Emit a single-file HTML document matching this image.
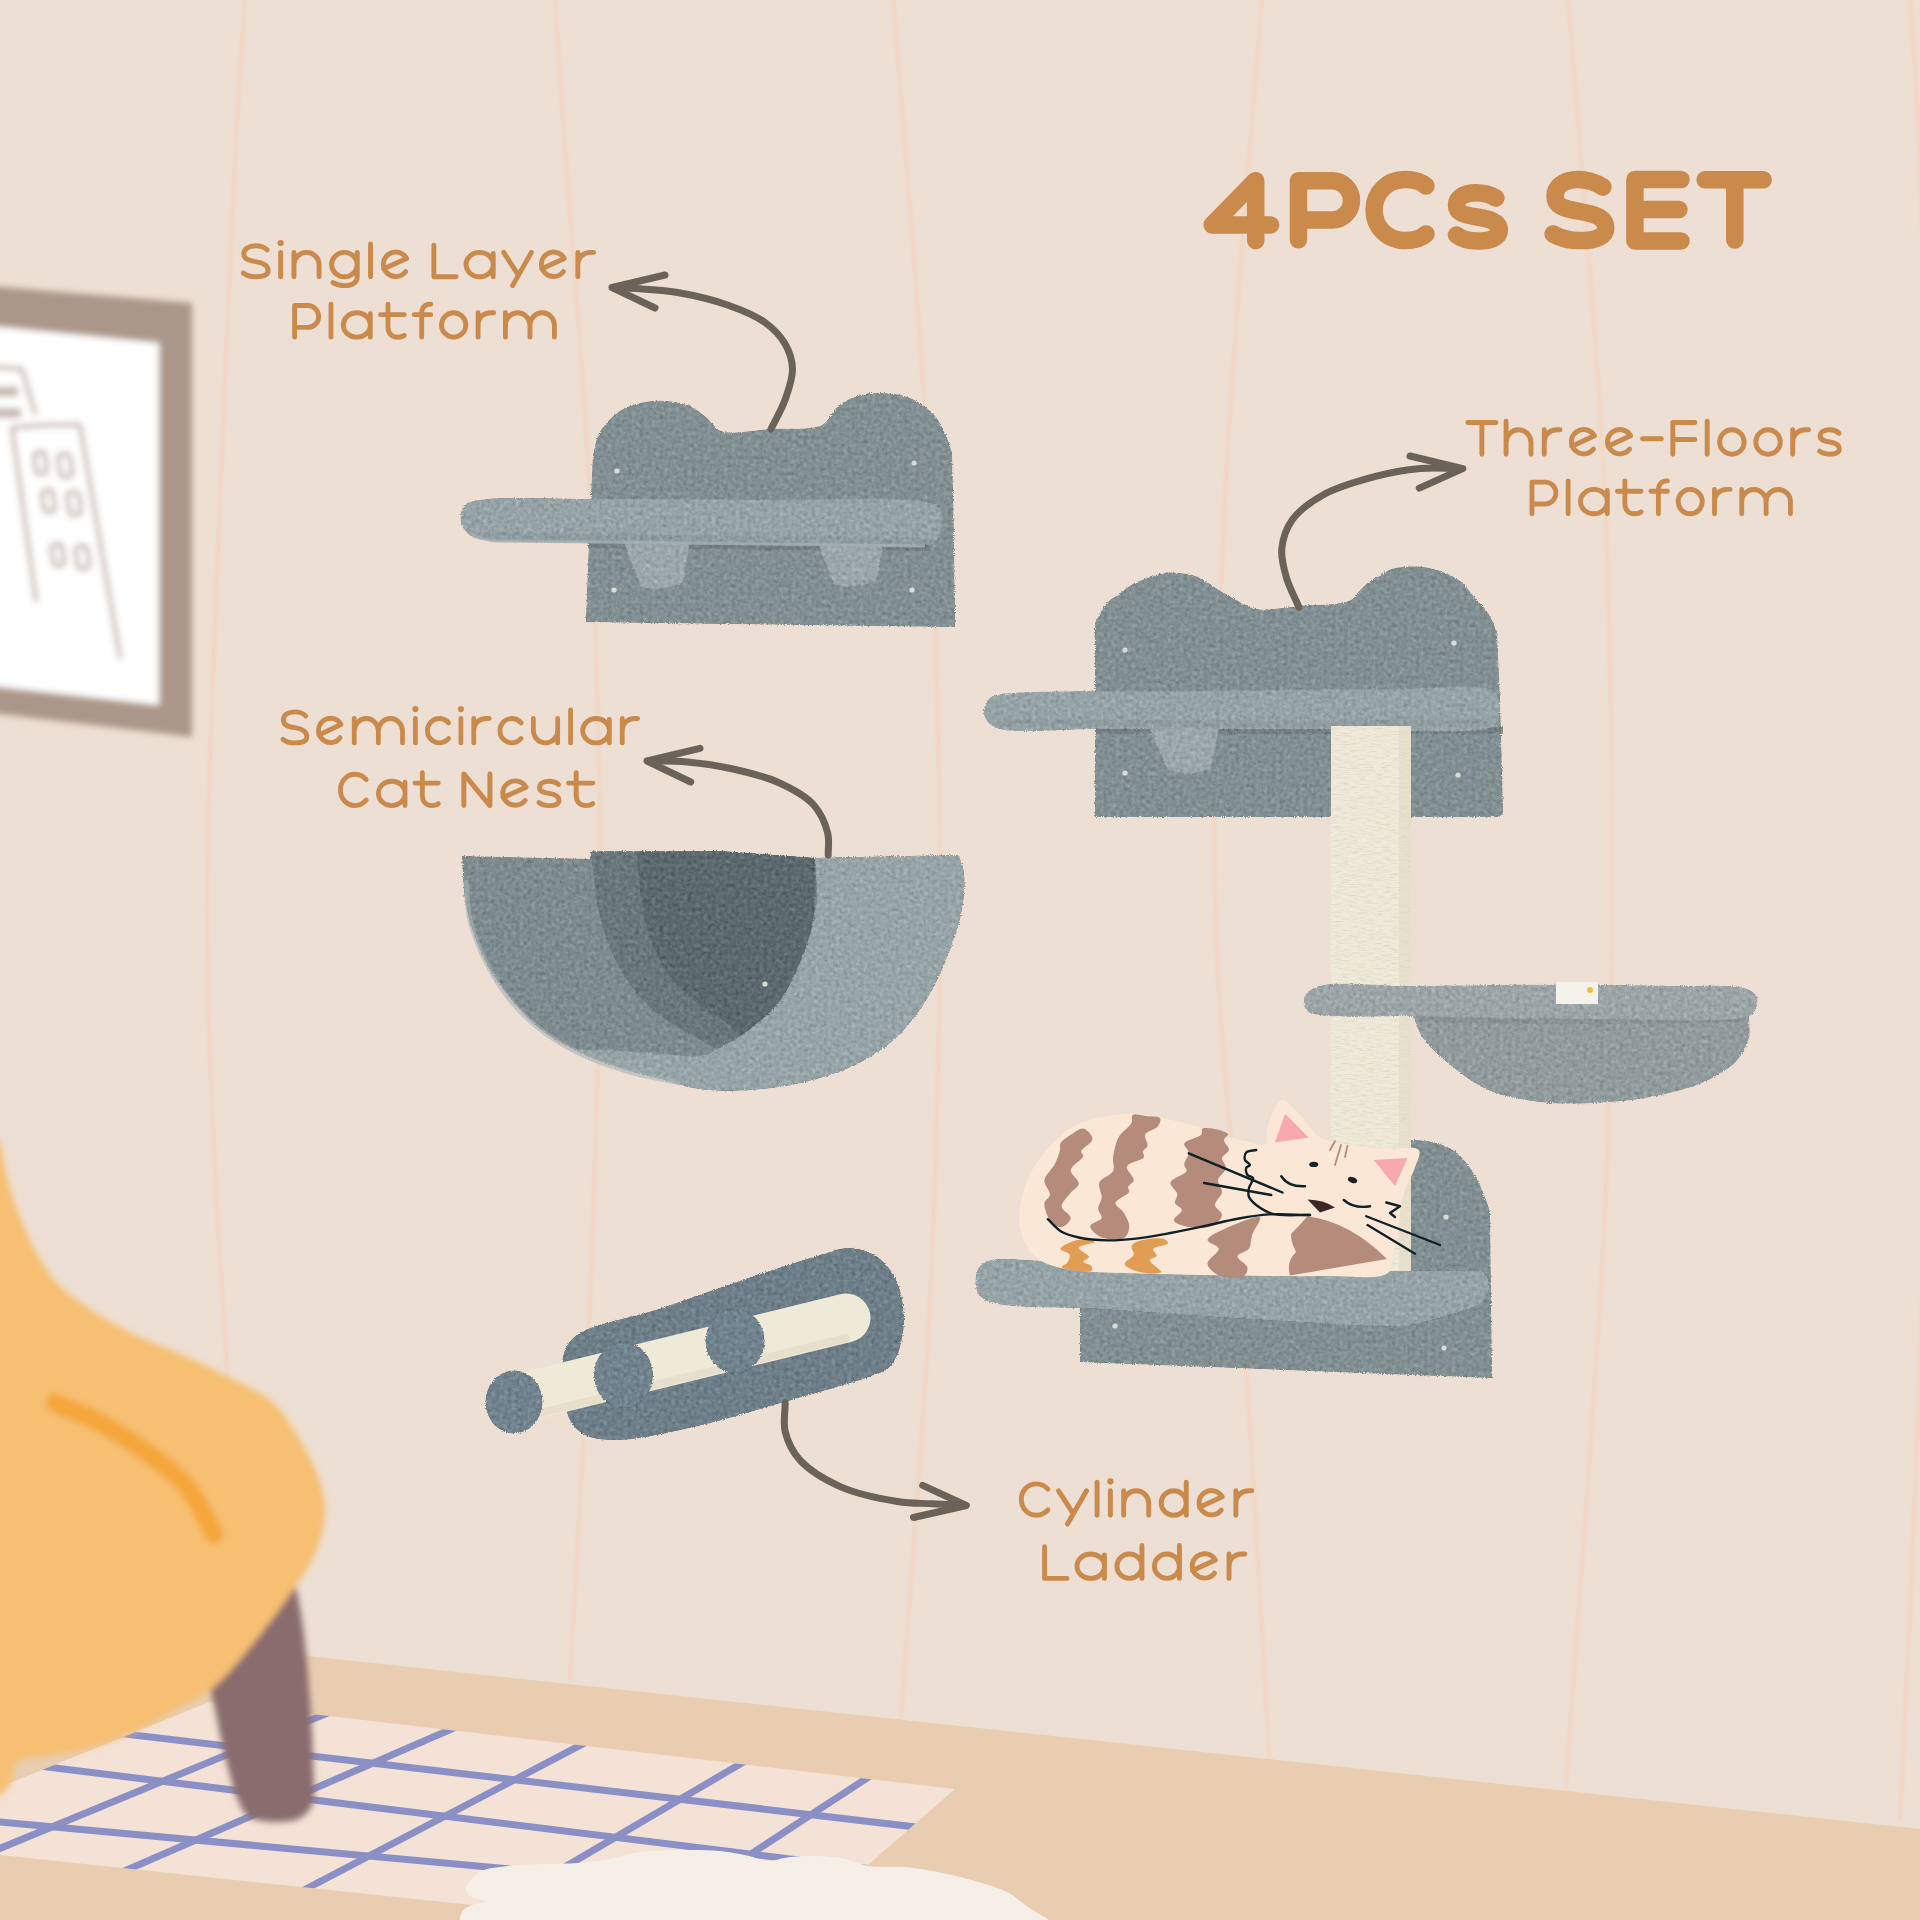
<!DOCTYPE html>
<html><head><meta charset="utf-8"><title>4PCs SET</title>
<style>
html,body{margin:0;padding:0;width:1920px;height:1920px;overflow:hidden;background:#eddfd3}
svg{display:block}
text{font-family:"Liberation Sans",sans-serif}
</style></head><body>
<svg width="1920" height="1920" viewBox="0 0 1920 1920">
<defs>
<filter id="b3" x="-20%" y="-20%" width="140%" height="140%"><feGaussianBlur stdDeviation="3"/></filter>
<filter id="b1" x="-10%" y="-10%" width="120%" height="120%"><feGaussianBlur stdDeviation="1"/></filter>
<filter id="fur" x="-2%" y="-2%" width="104%" height="104%" color-interpolation-filters="sRGB">
 <feTurbulence type="fractalNoise" baseFrequency="0.9" numOctaves="1" seed="5" result="dn"/>
 <feDisplacementMap in="SourceGraphic" in2="dn" scale="3.5" xChannelSelector="R" yChannelSelector="G" result="disp"/>
 <feTurbulence type="fractalNoise" baseFrequency="0.25" numOctaves="3" seed="3" result="n"/>
 <feColorMatrix in="n" type="matrix" values="0.33 0.33 0.33 0 0  0.33 0.33 0.33 0 0  0.33 0.33 0.33 0 0  0 0 0 0 1" result="g"/>
 <feComposite in="disp" in2="g" operator="arithmetic" k1="0" k2="1" k3="0.35" k4="-0.175" result="c"/>
 <feComposite in="c" in2="disp" operator="in" result="d"/>
 <feGaussianBlur in="d" stdDeviation="0.6"/>
</filter>
<clipPath id="rugclip"><polygon points="209,1702 955,1789 805,1920 613,1920 0,1855 0,1787"/></clipPath>
</defs>
<rect width="1920" height="1920" fill="#eddfd3"/>

<g fill="none" stroke="#f2d7c4" stroke-width="4.2" filter="url(#b1)">
<path d="M245.0,0.0 C242.3,40.0,239.9,68.8,237.0,120.0 C231.9,211.1,225.0,371.7,220.0,500.0 C214.9,631.6,207.3,782.3,207.0,900.0 C206.8,993.1,210.3,1066.7,214.0,1150.0 C217.7,1233.4,224.0,1316.7,229.0,1400.0"/>
<path d="M555.0,0.0 C557.7,40.0,559.5,68.8,563.0,120.0 C569.3,211.1,583.8,371.6,590.0,500.0 C596.3,631.6,600.0,766.7,600.0,900.0 C600.0,1033.3,595.1,1168.4,590.0,1300.0 C585.0,1428.3,576.7,1553.3,570.0,1680.0"/>
<path d="M893.0,0.0 C896.3,40.0,899.0,68.8,903.0,120.0 C910.0,211.1,923.8,371.6,930.0,500.0 C936.3,631.6,940.0,766.7,940.0,900.0 C940.0,1033.3,936.4,1164.3,930.0,1300.0 C923.3,1440.8,910.0,1586.7,900.0,1730.0"/>
<path d="M1262.0,0.0 C1258.7,40.0,1256.0,68.8,1252.0,120.0 C1245.0,211.1,1231.2,371.6,1225.0,500.0 C1218.7,631.6,1212.1,770.2,1215.0,900.0 C1217.7,1023.2,1231.6,1129.6,1240.0,1260.0 C1250.0,1415.2,1260.0,1600.0,1270.0,1770.0"/>
<path d="M1568.0,0.0 C1571.3,40.0,1574.0,68.8,1578.0,120.0 C1585.0,211.1,1599.3,371.6,1605.0,500.0 C1610.8,631.5,1612.3,775.2,1612.0,900.0 C1611.7,1009.9,1610.4,1090.3,1605.0,1210.0 C1597.5,1375.4,1578.3,1603.3,1565.0,1800.0"/>
<path d="M1910.0,0.0 C1912.7,40.0,1915.6,66.6,1918.0,120.0 C1922.9,226.6,1928.6,431.1,1930.0,600.0 C1931.6,788.8,1929.1,1019.0,1925.0,1200.0 C1921.6,1349.7,1914.8,1496.0,1910.0,1610.0 C1906.6,1691.6,1903.3,1750.0,1900.0,1820.0"/>
</g>
<g filter="url(#b3)">
<polygon points="-10,286 192,303 192,737 -10,713" fill="#ab978a"/>
<polygon points="-10,326 159,343 159,705 -10,686" fill="#ffffff"/>
<g fill="none" stroke="#c6b8b0" stroke-width="4.4" stroke-linecap="round" stroke-linejoin="round">
<path d="M12,428 Q45,424 80,425 L120,657"/>
<path d="M12,428 L36,600"/>
<path d="M-5,367 L22,369 L35,413"/>
<path d="M-5,391.5 H14" stroke-width="10"/>
<path d="M-5,413 H17" stroke-width="10"/>
<rect x="35" y="452" width="11" height="22" rx="4" transform="rotate(-8 40 463)"/>
<rect x="59" y="454" width="12" height="23" rx="4" transform="rotate(-8 64 464)"/>
<rect x="43" y="490" width="11" height="22" rx="4" transform="rotate(-8 48 501)"/>
<rect x="68" y="492" width="12" height="23" rx="4" transform="rotate(-8 73 502)"/>
<rect x="52" y="544" width="11" height="22" rx="4" transform="rotate(-8 56 553)"/>
<rect x="76" y="546" width="12" height="23" rx="4" transform="rotate(-8 81 554)"/>
</g>
</g>

<polygon points="0,1623 1920,1829 1920,1920 0,1920" fill="#e8cdb0"/>
<polygon points="209,1702 955,1789 805,1920 613,1920 0,1855 0,1787" fill="#f3e2d5"/>
<g clip-path="url(#rugclip)" stroke="#8a8fc5" stroke-width="7" fill="none">
<line x1="-645.0" y1="1643.5" x2="1695.0" y2="1918.6"/>
<line x1="-688.8" y1="1676.0" x2="1497.5" y2="1946.4"/>
<line x1="-509.0" y1="1775.0" x2="1018.0" y2="1916.0"/>
<line x1="-323.0" y1="1981.8" x2="646.0" y2="1581.6"/>
<line x1="-193.6" y1="2009.0" x2="774.2" y2="1589.0"/>
<line x1="28.3" y1="2034.4" x2="855.4" y2="1601.2"/>
<line x1="239.4" y1="2058.2" x2="991.2" y2="1616.5"/>
<line x1="628.2" y1="1934.2" x2="984.3" y2="1701.4"/>
</g>

<path d="M462.0,1925.0 C458.2,1921.2,460.3,1915.4,462.0,1912.0 C463.7,1908.7,468.2,1906.7,472.0,1905.0 C476.1,1903.2,485.9,1903.4,486.0,1902.0 C486.1,1900.5,473.3,1899.0,470.0,1896.0 C467.6,1893.8,465.6,1891.0,466.0,1888.0 C466.6,1883.4,473.8,1875.7,480.0,1872.0 C487.2,1867.7,496.5,1867.5,508.0,1866.0 C525.8,1863.7,559.1,1864.3,577.0,1863.0 C588.4,1862.1,595.2,1861.6,605.0,1860.0 C616.1,1858.1,627.8,1853.7,640.0,1852.0 C653.1,1850.2,667.5,1850.2,681.0,1850.0 C694.2,1849.8,708.0,1849.8,720.0,1851.0 C730.4,1852.0,740.5,1854.1,749.0,1856.0 C755.8,1857.5,760.6,1860.7,767.0,1861.0 C774.2,1861.4,781.9,1857.8,790.0,1857.0 C798.8,1856.1,808.8,1855.7,818.0,1856.0 C827.1,1856.3,836.3,1857.3,845.0,1859.0 C853.3,1860.7,860.1,1864.6,869.0,1866.0 C879.7,1867.7,893.3,1866.0,905.0,1867.0 C916.3,1868.0,926.7,1869.8,938.0,1872.0 C950.0,1874.4,963.2,1877.5,975.0,1881.0 C986.1,1884.3,997.4,1887.1,1007.0,1892.0 C1015.9,1896.6,1023.2,1903.8,1031.0,1909.0 C1038.2,1913.7,1046.8,1917.9,1052.0,1922.0 C1055.5,1924.8,1061.0,1927.7,1060.0,1930.0 C1052.9,1946.8,487.6,1950.8,462.0,1925.0 Z" fill="#f6efe8"/>
<g filter="url(#b3)">
<path d="M200.0,1640.0 C204.3,1660.0,208.7,1680.0,213.0,1700.0 C217.3,1720.0,221.4,1742.1,226.0,1760.0 C229.8,1774.8,233.4,1789.9,238.0,1800.0 C241.1,1806.8,242.9,1812.3,248.0,1816.0 C254.1,1820.4,265.3,1821.7,274.0,1822.0 C282.6,1822.3,293.4,1821.5,300.0,1818.0 C305.4,1815.1,309.5,1811.3,312.0,1805.0 C316.1,1795.0,313.2,1776.1,313.0,1760.0 C312.7,1741.4,311.6,1721.4,310.0,1700.0 C308.1,1675.2,305.7,1644.7,302.0,1620.0 C298.8,1598.5,294.0,1580.0,290.0,1560.0 Z" fill="#8a6c6e"/>
<path d="M0.0,1142.0 C3.0,1156.3,5.2,1171.3,9.0,1185.0 C12.6,1197.9,17.2,1210.2,22.0,1222.0 C26.6,1233.2,31.3,1243.9,37.0,1254.0 C42.6,1263.9,48.3,1273.6,56.0,1282.0 C63.9,1290.7,73.1,1297.4,84.0,1305.0 C97.4,1314.4,114.3,1324.5,131.0,1333.0 C148.6,1341.9,169.2,1348.9,187.0,1357.0 C203.5,1364.5,219.3,1372.2,234.0,1380.0 C247.5,1387.2,261.1,1392.3,272.0,1402.0 C283.3,1412.1,291.9,1426.4,300.0,1440.0 C308.3,1454.0,317.0,1471.2,321.0,1485.0 C324.1,1495.7,325.6,1504.5,325.0,1515.0 C324.4,1526.7,321.0,1540.0,316.0,1552.0 C310.6,1565.0,301.9,1576.7,293.0,1590.0 C282.4,1605.8,269.1,1623.9,256.0,1640.0 C242.8,1656.2,228.7,1674.9,214.0,1687.0 C201.5,1697.2,188.0,1702.7,175.0,1710.0 C162.3,1717.1,149.7,1724.1,137.0,1730.0 C124.7,1735.7,112.6,1741.0,100.0,1745.0 C87.6,1749.0,74.6,1751.7,62.0,1754.0 C49.6,1756.3,32.4,1757.4,25.0,1759.0 C21.7,1759.7,19.8,1759.7,18.0,1761.0 C16.2,1762.3,15.1,1764.4,14.0,1767.0 C12.2,1771.1,12.5,1779.1,10.0,1784.0 C7.7,1788.7,3.3,1792.0,0.0,1796.0 L-20,1800 L-20,1130 Z" fill="#f6bf72"/>
<path d="M55.0,1403.0 C70.0,1409.7,84.9,1414.9,100.0,1423.0 C116.6,1431.9,134.8,1443.7,150.0,1455.0 C164.0,1465.4,177.4,1475.0,188.0,1488.0 C198.8,1501.3,205.3,1518.7,214.0,1534.0" fill="none" stroke="#f5a63b" stroke-width="19" stroke-linecap="round"/>
</g><g filter="url(#fur)">
<path d="M586,622 L589,540 L593,455 C595.3,447.3,595.9,439.1,600.0,432.0 C604.5,424.3,612.6,415.9,620.0,411.0 C626.5,406.7,633.6,404.7,641.0,403.0 C648.6,401.3,657.0,400.5,665.0,401.0 C673.3,401.5,682.7,402.9,690.0,406.0 C696.6,408.8,701.7,413.7,707.0,418.0 C712.0,422.1,714.2,428.5,721.0,431.0 C731.9,435.0,753.4,430.0,770.0,429.0 C787.1,428.0,811.0,430.5,822.0,425.0 C828.8,421.6,830.4,414.3,835.0,410.0 C839.1,406.1,843.1,402.6,848.0,400.0 C853.1,397.2,859.5,395.1,865.0,394.0 C869.8,393.0,873.9,392.9,879.0,393.0 C885.3,393.1,893.4,393.4,900.0,395.0 C906.3,396.5,912.3,398.7,918.0,402.0 C924.0,405.5,930.4,410.4,935.0,416.0 C939.7,421.7,943.1,429.5,946.0,436.0 C948.6,441.8,950.0,447.3,952.0,453.0 L954,540 L955,627 Z" fill="#828f93"/>
<path d="M588,541 L930,545 L930,551 L588,548 Z" fill="#6c787c" opacity="0.7"/>
<path d="M623,540 L690,540 L683,583 Q662,592 641,587 Z" fill="#9ba7aa"/>
<path d="M817,540 L884,540 L876,581 Q855,589 834,584 Z" fill="#9ba7aa"/>
<path d="M480.0,500.0 C501.2,496.1,557.1,499.0,600.0,499.0 C649.5,498.9,705.9,499.4,760.0,500.0 C815.8,500.7,908.2,495.9,930.0,503.0 C935.8,504.9,937.9,506.5,940.0,510.0 C942.4,514.1,942.9,521.6,942.0,527.0 C941.1,532.3,938.8,539.0,935.0,542.0 C931.4,544.9,927.7,544.3,920.0,545.0 C895.1,547.4,813.3,544.5,760.0,544.0 C706.7,543.5,648.4,542.7,600.0,542.0 C559.9,541.4,511.8,542.9,490.0,540.0 C480.6,538.7,474.9,538.4,470.0,535.0 C465.7,532.0,462.0,526.8,461.0,522.0 C460.0,517.1,460.9,509.7,464.0,506.0 C467.2,502.2,472.0,501.5,480.0,500.0 Z" fill="#97a4a7"/>
<path d="M480,536 L760,539.5 L928,541" stroke="#8a979b" stroke-width="7" stroke-linecap="round" fill="none" opacity="0.55"/>
</g>
<path d="M470,533 Q482,541 500,541 L760,544 L925,546" stroke="#a3afb5" stroke-width="3" fill="none" opacity="0.8"/>
<g fill="#dcdcd6"><circle cx="617" cy="471" r="2.6"/><circle cx="914" cy="463" r="2.6"/><circle cx="614" cy="590" r="2.6"/><circle cx="912" cy="590" r="2.6"/></g>
<g filter="url(#fur)">
<path d="M462.0,856.0 C462.2,860.0,462.4,863.0,462.7,868.0 C463.3,876.6,463.4,891.4,465.5,903.0 C467.6,914.8,471.0,926.5,475.3,938.0 C479.8,950.0,485.5,962.7,492.0,973.6 C498.2,983.9,505.1,992.6,513.0,1001.7 C521.4,1011.4,530.5,1021.6,541.0,1029.8 C551.7,1038.1,564.0,1044.8,576.6,1051.0 C589.8,1057.5,604.5,1063.1,618.8,1067.8 C632.7,1072.4,647.2,1075.4,661.0,1079.0 C674.3,1082.5,686.7,1087.1,700.0,1089.0 C713.6,1090.9,727.0,1091.0,742.0,1090.3 C759.4,1089.5,779.8,1087.4,798.4,1083.3 C817.4,1079.1,837.8,1073.2,854.7,1065.0 C870.4,1057.4,885.0,1047.9,896.9,1036.9 C908.2,1026.6,916.9,1014.4,925.0,1001.7 C933.3,988.7,940.1,973.8,946.0,959.5 C951.8,945.6,957.1,930.9,960.2,917.3 C962.9,905.2,964.4,891.5,964.4,882.0 C964.4,875.6,963.6,870.8,962.4,866.0 C961.3,861.9,959.5,858.7,958.0,855.0 L815,858 L720,851 L591,851 L590,859 Z" fill="#7e8b8f"/>
<path d="M591.0,852.0 C593.7,871.3,595.1,892.4,599.0,910.0 C602.4,925.3,606.2,938.8,612.0,952.0 C617.6,964.8,624.7,977.2,633.0,988.0 C641.1,998.5,650.6,1007.9,661.0,1016.0 C671.6,1024.2,685.3,1031.4,696.0,1037.0 C704.6,1041.5,712.3,1047.8,720.0,1048.0 C726.9,1048.2,733.3,1043.9,740.0,1040.0 C748.2,1035.2,757.2,1028.2,765.0,1020.0 C774.0,1010.4,782.9,997.4,790.0,985.0 C797.2,972.4,803.8,959.0,808.0,945.0 C812.2,930.7,813.9,914.8,815.0,900.0 C816.1,885.8,815.0,872.0,815.0,858.0 L720,851 Z" fill="#5c6a6f"/>
<path d="M591.0,852.0 C593.7,871.3,595.1,892.4,599.0,910.0 C602.4,925.3,606.2,938.8,612.0,952.0 C617.6,964.8,624.7,977.2,633.0,988.0 C641.1,998.5,650.6,1007.9,661.0,1016.0 C671.6,1024.2,685.3,1031.4,696.0,1037.0 C704.6,1041.5,711.8,1047.5,720.0,1048.0 C728.2,1048.5,736.7,1042.7,745.0,1040.0 L745,1040 C736.7,1032.7,728.7,1024.6,720.0,1018.0 C711.6,1011.6,702.1,1007.7,694.0,1001.0 C685.4,993.9,676.9,985.4,670.0,976.0 C662.8,966.2,656.6,954.8,652.0,943.0 C647.2,930.6,644.5,917.2,642.0,903.0 C639.3,887.1,638.7,869.0,637.0,852.0 Z" fill="#6a777c"/>

<path d="M815,858 C815.7,870.7,817.7,883.6,817.0,896.0 C816.3,907.9,814.1,919.4,811.0,931.0 C807.8,943.1,803.3,955.3,798.0,967.0 C792.6,979.0,787.1,991.6,779.0,1002.0 C770.8,1012.6,759.9,1021.8,749.0,1030.0 C738.2,1038.2,723.2,1046.6,714.0,1051.0 C708.4,1053.6,706.2,1055.1,700.0,1056.0 C688.6,1057.6,666.7,1054.0,650.0,1053.0 C633.3,1052.0,614.6,1050.4,600.0,1050.0 C588.7,1049.7,580.0,1050.0,570.0,1050.0 L576.6,1051 C590.6,1056.6,604.5,1063.1,618.8,1067.8 C632.7,1072.4,647.2,1075.4,661.0,1079.0 C674.3,1082.5,686.7,1087.1,700.0,1089.0 C713.6,1090.9,727.0,1091.0,742.0,1090.3 C759.4,1089.5,779.8,1087.4,798.4,1083.3 C817.4,1079.1,837.8,1073.2,854.7,1065.0 C870.4,1057.4,885.0,1047.9,896.9,1036.9 C908.2,1026.6,916.9,1014.4,925.0,1001.7 C933.3,988.7,940.1,973.8,946.0,959.5 C951.8,945.6,957.1,930.9,960.2,917.3 C962.9,905.2,964.4,891.5,964.4,882.0 C964.4,875.6,963.6,870.8,962.4,866.0 C961.3,861.9,959.5,858.7,958.0,855.0 Z" fill="#97a4a8"/>
</g>
<circle cx="765" cy="984" r="2.6" fill="#dcdcd6"/>
<path d="M466.0,880.0 C467.3,893.3,466.9,906.9,470.0,920.0 C473.2,933.5,478.6,947.0,485.0,960.0 C491.8,973.7,500.1,987.9,510.0,1000.0 C520.0,1012.2,532.3,1023.6,545.0,1033.0 C557.4,1042.2,571.0,1049.5,585.0,1056.0 C599.3,1062.6,614.5,1067.5,630.0,1072.0 C646.1,1076.6,663.3,1079.3,680.0,1083.0" fill="none" stroke="#a9b3b8" stroke-width="5" opacity="0.6"/>
<g filter="url(#fur)">
<path d="M1095,817 L1095,700 L1095,623 C1099.0,616.3,1102.5,608.0,1107.0,603.0 C1110.6,599.0,1114.8,597.1,1119.0,594.0 C1123.5,590.7,1128.1,586.7,1133.0,584.0 C1137.8,581.4,1142.8,579.8,1148.0,578.0 C1153.4,576.1,1159.6,573.8,1165.0,573.0 C1169.8,572.3,1174.2,572.6,1179.0,573.0 C1184.2,573.5,1190.1,574.3,1195.0,576.0 C1199.7,577.7,1203.6,580.4,1208.0,583.0 C1212.6,585.7,1217.3,589.1,1222.0,592.0 C1226.6,594.8,1230.8,597.4,1236.0,600.0 C1242.0,603.1,1247.8,607.5,1256.0,609.0 C1267.6,611.1,1284.8,607.4,1300.0,606.0 C1316.4,604.5,1340.4,605.4,1351.0,600.0 C1357.2,596.8,1358.6,590.9,1363.0,587.0 C1367.3,583.2,1372.2,580.0,1377.0,577.0 C1381.8,574.0,1387.0,570.7,1392.0,569.0 C1396.4,567.5,1400.4,567.4,1405.0,567.0 C1410.3,566.6,1416.3,566.4,1422.0,567.0 C1427.9,567.7,1434.0,568.9,1440.0,571.0 C1446.6,573.4,1454.3,576.6,1460.0,581.0 C1465.6,585.3,1469.3,591.7,1474.0,597.0 C1478.7,602.3,1484.2,607.1,1488.0,613.0 C1491.8,618.8,1494.0,625.7,1497.0,632.0 L1500,700 L1503,810 Q1503,817 1496,817 Z" fill="#828f93"/>
<path d="M1095,727 L1503,727 L1503,734 L1095,734 Z" fill="#6c787c" opacity="0.7"/>
<path d="M1148,726 L1219,726 L1211,768 Q1190,777 1168,770 Z" fill="#9ba7aa"/>
<path d="M1004.0,694.0 C1031.4,689.9,1134.3,691.8,1200.0,691.0 C1266.3,690.2,1346.8,689.3,1400.0,689.0 C1435.3,688.8,1474.1,684.2,1488.0,689.0 C1493.0,690.7,1495.0,692.8,1497.0,696.0 C1499.2,699.6,1500.2,705.4,1500.0,710.0 C1499.8,714.7,1498.7,720.8,1496.0,724.0 C1493.5,726.9,1491.1,727.7,1485.0,729.0 C1461.0,734.2,1362.9,729.0,1300.0,729.0 C1234.6,729.0,1155.2,729.0,1100.0,729.0 C1060.9,729.0,1016.9,733.6,1000.0,729.0 C993.7,727.3,990.7,725.2,988.0,722.0 C985.5,719.1,983.8,714.8,984.0,711.0 C984.2,706.8,986.7,700.8,990.0,698.0 C993.3,695.1,996.5,695.1,1004.0,694.0 Z" fill="#97a4a7"/>
<path d="M1000,723 L1300,724 L1488,723" stroke="#8a979b" stroke-width="7" stroke-linecap="round" fill="none" opacity="0.55"/>
</g>
<g fill="#dcdcd6"><circle cx="1125" cy="650" r="2.6"/><circle cx="1454" cy="643" r="2.6"/><circle cx="1125" cy="773" r="2.6"/><circle cx="1458" cy="775" r="2.6"/></g>
<g filter="url(#fur)">
<path d="M1080,1362 L1080,1160 L1300,1150 C1336.0,1146.7,1382.6,1139.6,1408.0,1140.0 C1421.8,1140.2,1431.1,1141.1,1440.0,1144.0 C1447.1,1146.3,1452.6,1149.4,1458.0,1154.0 C1464.0,1159.1,1469.4,1166.6,1474.0,1174.0 C1478.8,1181.8,1483.2,1192.9,1486.0,1200.0 C1487.9,1204.7,1488.7,1208.0,1490.0,1212.0 L1491,1300 L1492,1378 Z" fill="#828f93"/>
</g>
<defs><filter id="sis" x="0" y="0" width="100%" height="100%" color-interpolation-filters="sRGB"><feTurbulence type="fractalNoise" baseFrequency="0.12 0.7" numOctaves="2" seed="7" result="n"/><feColorMatrix in="n" type="matrix" values="0 0 0 0 0.80  0 0 0 0 0.76  0 0 0 0 0.66  -2.2 0 0 0 1.25" result="m"/><feComposite in="m" in2="SourceGraphic" operator="in"/></filter></defs>
<rect x="1331" y="726" width="80" height="554" fill="#f0eadb"/>
<rect x="1331" y="726" width="80" height="554" fill="#fff" filter="url(#sis)" opacity="0.45"/>
<rect x="1399" y="726" width="12" height="554" fill="#e0d6bf" opacity="0.45"/>
<g filter="url(#fur)">
<path d="M1412.8,1015.0 C1416.2,1022.7,1417.9,1030.6,1423.0,1038.0 C1429.2,1047.0,1439.2,1055.8,1449.3,1064.0 C1460.6,1073.2,1473.7,1083.7,1488.3,1090.0 C1503.9,1096.7,1522.9,1099.8,1540.4,1102.0 C1557.7,1104.1,1575.2,1103.7,1592.5,1103.0 C1609.9,1102.3,1627.3,1101.0,1644.6,1098.0 C1662.1,1095.0,1682.6,1090.2,1696.7,1085.0 C1707.1,1081.2,1715.4,1076.8,1722.7,1072.0 C1728.8,1068.0,1733.8,1064.4,1738.0,1059.0 C1742.6,1053.2,1747.0,1045.4,1748.8,1038.0 C1750.5,1030.7,1748.8,1022.7,1748.8,1015.0 Z" fill="#929b9e"/>
<path d="M1418,1019 Q1580,1024 1746,1019" stroke="#7f898c" stroke-width="5" fill="none" opacity="0.55"/>
<path d="M1320.0,986.0 C1337.0,980.9,1377.3,986.2,1410.0,986.0 C1449.4,985.8,1496.6,984.7,1540.0,984.7 C1583.5,984.7,1633.2,985.2,1670.6,986.0 C1698.9,986.6,1731.3,984.1,1745.0,988.6 C1751.0,990.6,1755.0,992.8,1756.6,996.5 C1758.3,1000.4,1756.8,1008.4,1754.0,1012.0 C1751.2,1015.5,1747.3,1016.5,1740.0,1018.0 C1717.8,1022.6,1649.6,1019.2,1600.0,1019.0 C1543.8,1018.7,1471.2,1016.7,1420.0,1016.0 C1381.8,1015.5,1337.5,1018.3,1320.0,1015.0 C1313.5,1013.8,1309.5,1013.1,1307.0,1010.0 C1304.5,1006.8,1303.3,999.9,1305.0,996.0 C1306.9,991.6,1312.4,988.3,1320.0,986.0 Z" fill="#9ca5a8"/>
</g>
<rect x="1556" y="982" width="42" height="22" fill="#f5f2ea"/><circle cx="1590" cy="990" r="3" fill="#f0c030"/>
<g filter="url(#fur)">
<path d="M992.0,1260.0 C1009.2,1256.7,1058.5,1263.4,1100.0,1265.0 C1156.5,1267.2,1236.0,1270.0,1300.0,1271.0 C1359.0,1271.9,1444.7,1270.1,1470.0,1271.0 C1477.3,1271.3,1480.8,1269.9,1484.0,1272.0 C1486.8,1273.9,1488.4,1278.3,1489.0,1282.0 C1489.7,1286.2,1488.9,1292.2,1487.0,1296.0 C1485.3,1299.4,1483.1,1301.4,1479.0,1304.0 C1471.2,1309.0,1453.2,1314.3,1440.0,1318.0 C1426.9,1321.6,1416.4,1324.7,1400.0,1326.0 C1374.3,1328.0,1333.3,1323.7,1300.0,1322.0 C1266.7,1320.3,1233.3,1318.2,1200.0,1316.0 C1166.7,1313.8,1134.1,1311.3,1100.0,1309.0 C1064.2,1306.6,1007.8,1308.6,990.0,1302.0 C983.4,1299.6,980.4,1297.1,978.0,1293.0 C975.5,1288.6,975.2,1281.0,976.0,1276.0 C976.6,1271.8,978.3,1267.7,981.0,1265.0 C983.7,1262.3,986.2,1261.1,992.0,1260.0 Z" fill="#97a4a7"/>
</g>
<g fill="#dcdcd6"><circle cx="1115" cy="1326" r="2.6"/><circle cx="1444" cy="1348" r="2.6"/><circle cx="1446" cy="1217" r="2.6"/></g><path d="M1133.8,1113.8 C1142.7,1113.9,1149.4,1115.4,1159.0,1117.2 C1172.1,1119.7,1192.2,1124.8,1204.8,1128.6 C1213.8,1131.3,1220.1,1134.4,1227.7,1136.7 C1235.1,1138.9,1243.3,1140.5,1250.0,1142.0 C1255.5,1143.2,1262.0,1147.1,1265.0,1145.0 C1268.2,1142.7,1265.9,1133.3,1267.5,1127.5 C1269.2,1121.3,1272.0,1113.6,1275.0,1108.8 C1277.2,1105.1,1279.3,1100.2,1282.5,1100.0 C1287.0,1099.7,1294.2,1109.3,1300.0,1115.0 C1306.7,1121.5,1312.9,1133.0,1320.0,1137.5 C1325.5,1141.0,1331.1,1141.1,1337.5,1142.5 C1345.0,1144.1,1354.2,1145.2,1362.5,1146.2 C1370.8,1147.3,1378.7,1148.1,1387.5,1148.8 C1397.3,1149.4,1415.2,1145.4,1418.8,1150.0 C1421.4,1153.5,1417.0,1161.4,1415.0,1167.5 C1412.7,1174.6,1407.4,1183.2,1405.0,1190.0 C1403.1,1195.4,1402.1,1199.4,1401.0,1205.0 C1399.7,1211.8,1399.3,1220.0,1398.0,1228.0 C1396.6,1236.7,1394.9,1246.9,1393.0,1255.0 C1391.5,1261.6,1393.1,1268.9,1388.0,1273.0 C1378.6,1280.5,1349.6,1275.5,1325.0,1276.0 C1290.4,1276.7,1236.4,1275.6,1200.0,1275.0 C1171.7,1274.5,1146.6,1273.8,1124.6,1273.0 C1107.4,1272.3,1092.2,1272.4,1078.8,1270.7 C1068.0,1269.4,1058.1,1268.1,1050.0,1265.0 C1043.3,1262.4,1037.6,1259.3,1033.0,1254.7 C1028.4,1250.1,1024.9,1243.4,1022.6,1237.5 C1020.5,1231.9,1019.5,1226.5,1019.2,1220.3 C1018.9,1213.2,1019.6,1205.3,1021.5,1197.4 C1023.8,1188.2,1028.1,1177.5,1033.0,1168.8 C1037.7,1160.3,1043.4,1152.8,1050.0,1145.8 C1056.7,1138.6,1064.4,1131.2,1073.0,1126.4 C1081.6,1121.6,1091.8,1119.3,1101.7,1117.2 C1112.0,1115.0,1123.7,1113.6,1133.8,1113.8 Z" fill="#fbe7d6"/>
<g fill="#b58b7b">
<path d="M1060.4,1143.5 C1062.1,1140.3,1068.0,1136.5,1072.0,1134.0 C1075.7,1131.7,1079.9,1127.9,1083.3,1128.6 C1086.8,1129.3,1092.5,1135.4,1092.5,1139.0 C1092.5,1143.0,1081.4,1148.4,1081.0,1151.6 C1080.8,1153.3,1083.5,1154.2,1083.3,1156.0 C1082.9,1159.5,1071.2,1165.2,1070.7,1170.0 C1070.3,1174.4,1079.1,1179.5,1078.8,1183.6 C1078.4,1187.4,1072.4,1190.2,1069.6,1194.0 C1066.7,1197.9,1061.4,1202.6,1061.6,1206.6 C1061.8,1210.6,1070.9,1214.5,1070.7,1218.0 C1070.5,1221.3,1064.9,1226.7,1061.6,1227.2 C1058.4,1227.7,1054.0,1225.1,1051.2,1222.0 C1047.7,1218.0,1043.8,1207.9,1044.4,1203.0 C1044.8,1199.6,1049.6,1198.2,1050.0,1195.0 C1050.5,1190.9,1043.9,1185.1,1044.4,1180.2 C1045.0,1174.8,1052.0,1169.5,1054.7,1164.2 C1057.1,1159.5,1059.2,1153.9,1060.0,1150.0 C1060.5,1147.5,1059.3,1145.6,1060.4,1143.5 Z"/>
<path d="M1132.6,1114.9 C1134.8,1113.1,1141.5,1115.4,1146.0,1116.0 C1150.7,1116.6,1158.6,1116.0,1160.1,1118.3 C1161.2,1120.1,1159.6,1124.0,1157.8,1126.4 C1155.4,1129.6,1146.7,1130.9,1145.2,1134.4 C1143.9,1137.5,1148.2,1142.8,1147.5,1145.8 C1146.9,1148.2,1143.4,1149.6,1142.9,1151.6 C1142.5,1153.4,1144.9,1155.5,1144.0,1157.3 C1142.4,1160.6,1128.2,1162.3,1126.9,1166.5 C1125.7,1170.2,1134.2,1176.5,1133.8,1180.2 C1133.4,1183.0,1128.5,1184.8,1128.0,1187.0 C1127.6,1188.6,1129.8,1190.0,1129.2,1191.7 C1128.1,1195.0,1115.7,1199.3,1115.4,1203.1 C1115.1,1206.2,1121.2,1208.7,1123.4,1212.3 C1125.9,1216.2,1129.2,1221.6,1129.2,1226.0 C1129.2,1230.0,1127.9,1235.3,1124.6,1237.5 C1120.2,1240.5,1107.7,1240.0,1101.7,1237.5 C1096.7,1235.4,1089.9,1229.3,1090.2,1226.0 C1090.5,1222.9,1100.7,1221.2,1101.7,1218.0 C1102.5,1215.3,1098.3,1212.1,1098.2,1208.9 C1098.1,1205.3,1101.4,1201.5,1101.7,1197.4 C1102.0,1192.8,1097.8,1186.8,1099.4,1182.5 C1101.2,1177.8,1111.0,1175.6,1113.1,1171.0 C1115.0,1167.0,1112.4,1162.3,1113.1,1157.3 C1114.0,1151.1,1115.6,1142.6,1118.9,1136.7 C1121.9,1131.2,1129.5,1127.2,1131.5,1122.9 C1132.8,1120.1,1130.9,1116.3,1132.6,1114.9 Z"/>
<path d="M1202.5,1128.6 C1205.8,1126.4,1226.7,1130.9,1228.0,1134.0 C1228.7,1135.6,1224.1,1137.7,1224.0,1140.0 C1223.8,1142.9,1229.4,1147.0,1229.0,1150.0 C1228.6,1153.0,1222.5,1155.0,1222.0,1158.0 C1221.5,1161.0,1226.4,1164.6,1226.0,1168.0 C1225.6,1171.9,1218.6,1175.9,1218.0,1180.0 C1217.5,1183.9,1222.3,1188.0,1222.0,1192.0 C1221.6,1196.3,1214.8,1201.0,1215.0,1205.0 C1215.2,1208.6,1222.2,1211.7,1222.0,1215.0 C1221.8,1218.7,1216.8,1223.9,1212.0,1226.0 C1205.5,1228.9,1191.1,1227.8,1184.2,1226.0 C1179.7,1224.9,1174.3,1222.9,1173.8,1220.3 C1173.2,1217.6,1182.1,1213.0,1181.9,1210.0 C1181.7,1207.4,1175.7,1205.8,1175.0,1203.1 C1174.3,1200.5,1177.8,1197.1,1177.3,1194.0 C1176.8,1190.3,1169.7,1186.0,1170.4,1182.5 C1171.3,1178.2,1185.3,1174.8,1186.5,1171.0 C1187.2,1168.7,1184.1,1166.7,1184.2,1164.2 C1184.3,1160.9,1188.9,1156.3,1188.8,1152.7 C1188.6,1149.4,1183.3,1146.2,1184.2,1143.5 C1185.4,1139.8,1198.9,1137.7,1201.4,1134.4 C1202.8,1132.6,1200.9,1129.6,1202.5,1128.6 Z"/>
<path d="M1207.5,1240.0 C1207.7,1236.1,1219.8,1231.0,1227.5,1227.5 C1236.8,1223.3,1257.4,1214.6,1260.0,1217.5 C1261.9,1219.6,1254.4,1228.4,1252.5,1233.8 C1250.7,1238.8,1251.4,1245.0,1248.8,1248.8 C1246.2,1252.3,1237.9,1253.2,1237.5,1256.2 C1237.1,1259.4,1246.9,1263.8,1247.5,1267.5 C1248.0,1270.4,1246.4,1274.3,1243.8,1276.0 C1239.5,1278.8,1226.3,1278.6,1220.0,1276.0 C1214.6,1273.8,1207.8,1268.2,1207.5,1263.8 C1207.1,1259.1,1219.3,1252.9,1218.8,1248.8 C1218.3,1245.2,1207.3,1243.1,1207.5,1240.0 Z"/>
<path d="M1307.5,1216.25 Q1350,1222 1387,1259 L1290,1275.5 Q1286,1262 1296,1252 Q1290,1240 1291.25,1233.75 Q1300,1225 1307.5,1216.25 Z"/>
</g>
<g fill="#e29d54"><path d="M1060.4,1249.0 C1060.5,1246.2,1072.7,1240.8,1078.8,1239.8 C1084.1,1238.9,1094.7,1240.7,1094.8,1242.0 C1094.9,1243.3,1079.3,1245.1,1078.8,1247.8 C1078.3,1250.2,1089.1,1254.5,1089.0,1257.0 C1089.0,1258.8,1083.2,1260.1,1083.3,1261.6 C1083.4,1263.2,1090.3,1264.3,1091.4,1266.2 C1092.2,1267.6,1092.5,1270.0,1091.4,1271.0 C1088.6,1273.5,1062.2,1269.4,1061.6,1267.0 C1061.3,1265.8,1066.0,1264.6,1067.3,1262.7 C1068.7,1260.6,1070.4,1256.9,1069.6,1254.7 C1068.6,1252.2,1060.3,1251.0,1060.4,1249.0 Z"/><path d="M1131.5,1246.7 C1132.0,1244.8,1133.6,1243.2,1136.0,1242.0 C1140.9,1239.5,1157.0,1237.1,1162.4,1238.6 C1165.2,1239.4,1168.3,1241.8,1168.1,1243.2 C1167.8,1245.3,1154.2,1246.3,1153.2,1249.0 C1152.5,1250.9,1157.2,1253.9,1156.7,1255.8 C1156.2,1257.8,1150.0,1258.4,1149.8,1260.4 C1149.5,1263.3,1162.1,1269.9,1161.2,1272.0 C1160.2,1274.4,1145.9,1273.6,1139.5,1272.0 C1133.9,1270.6,1125.1,1267.0,1124.6,1263.9 C1124.2,1261.2,1132.9,1257.9,1133.8,1254.7 C1134.4,1252.1,1131.0,1248.9,1131.5,1246.7 Z"/></g>
<g fill="#f7a9ae"><path d="M1275,1142.5 L1285,1113.75 L1308.75,1137.5 Z"/><path d="M1373.75,1160 L1407.5,1158 L1395,1186 Z"/></g>
<g fill="none" stroke="#0f2027" stroke-width="2.4" stroke-linecap="round" stroke-linejoin="round">
<path d="M1047.8,1219.2 C1052.4,1223.4,1056.4,1228.7,1061.6,1231.8 C1066.7,1234.8,1072.2,1236.1,1078.8,1237.5 C1087.0,1239.3,1097.8,1240.2,1107.4,1240.4 C1116.9,1240.6,1126.1,1239.7,1136.0,1238.6 C1147.0,1237.4,1159.0,1235.1,1170.4,1233.0 C1181.9,1230.9,1193.5,1228.4,1204.8,1226.0 C1215.8,1223.7,1226.7,1220.7,1237.5,1218.8 C1248.0,1216.9,1257.6,1215.1,1268.8,1214.4 C1281.5,1213.6,1296.2,1214.8,1310.0,1215.0"/>
<path d="M1188.75,1153.3 L1282.5,1192.5"/><path d="M1204,1183 L1271.25,1195"/>
<path d="M1366.25,1216.25 L1440,1245"/><path d="M1367.5,1225 L1415,1253.75"/>
<path d="M1256.2,1150.0 C1252.9,1150.8,1248.1,1150.5,1246.2,1152.5 C1244.7,1154.2,1244.3,1157.9,1245.0,1160.0 C1245.7,1162.0,1250.1,1163.6,1250.0,1165.0 C1249.9,1166.2,1246.8,1166.6,1246.2,1168.0 C1245.6,1169.7,1246.3,1173.3,1247.5,1175.0 C1248.6,1176.6,1252.4,1176.3,1253.0,1178.0 C1253.8,1180.2,1249.6,1184.7,1249.0,1188.0 C1248.4,1191.0,1247.9,1194.3,1249.0,1197.0 C1250.2,1200.0,1253.1,1202.5,1256.2,1205.0 C1260.4,1208.2,1265.7,1211.9,1272.5,1213.8 C1282.2,1216.4,1297.5,1214.6,1310.0,1215.0"/>
<path d="M1281.25,1176.25 Q1288,1187 1305,1186.25"/><path d="M1343.75,1200 Q1354,1209 1370,1206.25"/>
<path d="M1386.25,1202.5 L1400,1206.25 L1390,1213 L1395,1217"/>
</g>
<g fill="#1b2328"><ellipse cx="1313.75" cy="1164.4" rx="4.5" ry="2.6"/><ellipse cx="1352.5" cy="1180" rx="4.8" ry="2.8" transform="rotate(20 1352.5 1180)"/></g>
<path d="M1307.5,1199.4 Q1325,1200 1335,1207.5 L1320,1212.5 Z" fill="#3a2624"/>
<g stroke="#b58b7b" stroke-width="1.8" stroke-linecap="round"><path d="M1330,1150 L1335,1141"/><path d="M1335,1165 L1341,1145"/><path d="M1345,1157 L1347.5,1146"/></g>
<g filter="url(#fur)">
<path d="M565.0,1350.0 C568.1,1342.7,572.0,1338.2,580.0,1333.0 C595.3,1323.2,632.8,1317.6,659.0,1309.0 C685.4,1300.4,711.6,1290.3,738.0,1281.5 C764.3,1272.7,796.4,1261.9,817.0,1256.0 C830.0,1252.3,838.8,1247.8,849.0,1248.0 C858.4,1248.2,868.3,1251.0,876.0,1256.0 C884.1,1261.3,891.4,1269.9,896.0,1279.5 C901.3,1290.4,903.8,1306.3,904.0,1319.0 C904.1,1330.7,901.5,1344.1,898.0,1353.0 C895.5,1359.5,892.1,1364.9,888.0,1368.5 C884.5,1371.6,882.1,1372.1,876.0,1374.5 C859.2,1381.2,808.6,1395.0,777.5,1404.0 C749.6,1412.0,724.6,1420.0,698.0,1426.0 C671.8,1431.9,639.9,1439.7,619.0,1440.0 C605.3,1440.2,593.6,1439.3,585.0,1435.0 C578.3,1431.6,573.7,1426.7,570.0,1420.0 C565.2,1411.3,562.8,1396.7,562.0,1385.0 C561.2,1373.4,561.1,1359.1,565.0,1350.0 Z" fill="#6e7f89"/>
</g>
<line x1="520" y1="1398" x2="846" y2="1318" stroke="#efe9d8" stroke-width="49" stroke-linecap="round"/>
<line x1="520" y1="1418" x2="846" y2="1338" stroke="#e2dac5" stroke-width="8" stroke-linecap="round" opacity="0.6"/>
<g filter="url(#fur)" fill="#71838e">
<ellipse cx="514" cy="1402" rx="28.5" ry="31.5"/><ellipse cx="623.5" cy="1375" rx="29.5" ry="33"/><ellipse cx="735" cy="1341" rx="29.5" ry="32"/>
</g>
<g fill="none" stroke="#6b6259" stroke-width="7" stroke-linecap="round" stroke-linejoin="round">
<path d="M771.0,429.0 C775.7,419.3,781.4,410.0,785.0,400.0 C788.6,390.0,792.8,378.6,792.5,368.8 C792.3,359.9,789.3,351.3,785.0,343.8 C780.4,335.8,773.4,328.6,765.0,322.5 C755.0,315.3,741.2,309.8,727.5,305.0 C712.3,299.6,693.1,295.2,677.5,292.5 C664.2,290.2,651.4,289.5,640.0,288.8 C630.6,288.1,622.7,288.2,614.0,288.0"/>
<path d="M665,275 L612,287.5 L655,308"/>
<path d="M828.2,854.9 C828.0,847.6,829.6,840.6,827.7,833.0 C825.4,823.9,820.6,812.6,813.3,804.5 C805.1,795.4,791.7,788.5,779.0,782.7 C765.2,776.4,748.4,772.5,733.0,769.0 C717.9,765.6,701.9,763.3,687.3,762.0 C674.0,760.8,661.8,761.3,649.0,761.0"/>
<path d="M700,748.3 L647,761 L690.7,782"/>
<path d="M1299.0,607.3 C1294.8,597.4,1289.3,587.5,1286.4,577.5 C1283.7,568.0,1280.9,558.3,1281.8,548.9 C1282.7,539.2,1286.0,528.7,1292.0,520.2 C1298.9,510.4,1310.7,501.9,1323.0,495.0 C1337.4,486.9,1357.7,481.2,1374.6,476.7 C1390.1,472.6,1405.6,469.9,1420.4,468.6 C1434.0,467.4,1446.8,468.6,1460.0,468.6"/>
<path d="M1410,456 L1462.8,468.6 L1419.3,488.1"/>
<path d="M785.2,1402.9 C785.2,1412.5,782.9,1422.3,785.2,1431.6 C787.6,1441.4,792.4,1451.7,800.0,1460.2 C809.3,1470.6,825.0,1479.8,840.2,1486.6 C857.1,1494.1,880.7,1498.8,897.5,1501.5 C910.3,1503.6,920.7,1503.1,931.9,1503.8 C942.5,1504.4,952.6,1504.9,963.0,1505.5"/>
<path d="M922.7,1485.4 L966.3,1505.5 L913.5,1517.5"/>
</g>
<g fill="none" stroke="#c98a4b" stroke-width="17.5" stroke-linecap="round" stroke-linejoin="round">
<path d="M1255.7,240.65 V180.45 L1212.15,224.9 H1270.65"/>
<path d="M1298.45,239.75 V180.75 H1331.85 A19.6,19.6 0 0 1 1331.85,220 H1298.45"/>
<path d="M1426,186 C1420,180.5 1412,179.5 1405,179.5 C1387,179.5 1374.1,193 1374.1,210 C1374.1,227 1387,240.6 1405,240.6 C1412,240.6 1420,239.5 1426,234"/>
<path d="M1496,198 C1488,193.5 1481,192.75 1476,192.75 C1463.5,192.75 1456.5,198 1456.5,205 C1456.5,213 1464,215 1477,217 C1492,219 1499.3,223 1499.3,230 C1499.3,237.5 1491,241 1478,241 C1470,241 1462,239.5 1456.5,235"/>
<path d="M1603,187 C1595,182 1586,179.6 1578,179.6 C1563,179.6 1555,187 1555,196 C1555,206 1563,208.5 1580,211.5 C1598,214.5 1605.8,219 1605.8,228 C1605.8,236 1597,240.6 1580,240.6 C1570,240.6 1561,238.5 1553,234"/>
<path d="M1681,179.5 H1634.9 V240.9 H1681 M1634.9,209.5 H1679"/>
<path d="M1705.1,179.8 H1763.2 M1734.8,179.8 V240"/>
</g>
<g transform="translate(240.80,279.40) scale(1.0089,1)"><g fill="none" stroke="#c98a4b" stroke-width="4.90" stroke-linecap="round" stroke-linejoin="round"><path transform="translate(0.00,0)" d="M26,-29.6 C23,-32.5 19,-33.6 14.8,-33.6 C7.8,-33.6 3,-30.6 3,-25.5 C3,-20 8.2,-18.8 14.8,-17.8 C22.3,-16.6 27.1,-14.4 27.1,-8.8 C27.1,-4 22.3,-2.6 15.2,-2.6 C9.5,-2.6 5.3,-3.8 2.6,-6.2"/><path transform="translate(36.90,0)" d="M2.6,-27.0 V-2.6"/><path transform="translate(50.10,0)" d="M2.6,-27.0 V-2.6 M2.6,-14.6 A12.45,12.45 0 0 1 27.5,-14.6 V-2.6"/><path transform="translate(87.40,0)" d="M15.3,-27 A12.7,12.2 0 1 0 15.3,-2.6 A12.7,12.2 0 1 0 15.3,-27 M28,-27.0 V-3 C28,3.6 22.8,6.2 16,6.2 C11,6.2 7,5 4,3.2"/><path transform="translate(126.00,0)" d="M2.6,-35.5 V-2.6"/><path transform="translate(138.40,0)" d="M3.3,-10.6 L25.9,-21 A12.25,12.2 0 1 0 25,-7.8"/></g><g fill="#c98a4b"><circle cx="39.50" cy="-36.40" r="3.10"/></g></g>
<g transform="translate(431.30,279.40) scale(0.9970,1)"><g fill="none" stroke="#c98a4b" stroke-width="4.90" stroke-linecap="round" stroke-linejoin="round"><path transform="translate(0.00,0)" d="M2.6,-34.3 V-2.6 H24.9"/><path transform="translate(32.20,0)" d="M16.3,-27 A13.7,12.2 0 1 0 16.3,-2.6 A13.7,12.2 0 1 0 16.3,-27 M29.9,-26 V-2.6"/><path transform="translate(70.00,0)" d="M2.6,-27.0 L16.8,-5 M30.4,-27.0 L11.5,6.2"/><path transform="translate(107.50,0)" d="M3.3,-10.6 L25.9,-21 A12.25,12.2 0 1 0 25,-7.8"/><path transform="translate(144.40,0)" d="M2.6,-27.0 V-2.6 M2.6,-14 C2.6,-22.5 8.3,-27 15.5,-27 L18.4,-27"/></g></g>
<g transform="translate(292.00,339.75) scale(0.9914,1)"><g fill="none" stroke="#c98a4b" stroke-width="4.90" stroke-linecap="round" stroke-linejoin="round"><path transform="translate(0.00,0)" d="M2.6,-2.6 V-34.3 H15.95 A10.95,10.95 0 0 1 15.95,-12.399999999999999 H2.6"/><path transform="translate(36.70,0)" d="M2.6,-35.5 V-2.6"/><path transform="translate(49.10,0)" d="M16.3,-27 A13.7,12.2 0 1 0 16.3,-2.6 A13.7,12.2 0 1 0 16.3,-27 M29.9,-26 V-2.6"/><path transform="translate(86.60,0)" d="M10.2,-35.5 V-13 C10.2,-6.3 14,-2.6 20,-2.6 C23,-2.6 25.5,-3.3 26.6,-4.5 M2.6,-25.1 H26.6"/><path transform="translate(120.60,0)" d="M10.2,-2.6 V-26 C10.2,-32 13.5,-35.5 18.5,-35.5 L19.4,-35.5 M2.6,-25.1 H19.4"/><path transform="translate(148.20,0)" d="M14.85,-27 A12.25,12.2 0 1 0 14.85,-2.6 A12.25,12.2 0 1 0 14.85,-27"/><path transform="translate(185.10,0)" d="M2.6,-27.0 V-2.6 M2.6,-14 C2.6,-22.5 8.3,-27 15.5,-27 L18.4,-27"/><path transform="translate(212.70,0)" d="M2.6,-27.0 V-2.6 M2.6,-14.6 A12.35,12.35 0 0 1 27.3,-14.6 V-2.6 M27.3,-14.6 A12.35,12.35 0 0 1 52,-14.6 V-2.6"/></g></g>
<g transform="translate(280.40,745.50) scale(0.9767,1)"><g fill="none" stroke="#c98a4b" stroke-width="4.90" stroke-linecap="round" stroke-linejoin="round"><path transform="translate(0.00,0)" d="M26,-29.6 C23,-32.5 19,-33.6 14.8,-33.6 C7.8,-33.6 3,-30.6 3,-25.5 C3,-20 8.2,-18.8 14.8,-17.8 C22.3,-16.6 27.1,-14.4 27.1,-8.8 C27.1,-4 22.3,-2.6 15.2,-2.6 C9.5,-2.6 5.3,-3.8 2.6,-6.2"/><path transform="translate(36.10,0)" d="M3.3,-10.6 L25.9,-21 A12.25,12.2 0 1 0 25,-7.8"/><path transform="translate(73.00,0)" d="M2.6,-27.0 V-2.6 M2.6,-14.6 A12.35,12.35 0 0 1 27.3,-14.6 V-2.6 M27.3,-14.6 A12.35,12.35 0 0 1 52,-14.6 V-2.6"/><path transform="translate(135.60,0)" d="M2.6,-27.0 V-2.6"/><path transform="translate(148.00,0)" d="M24.2,-22.6 A12.25,12.2 0 1 0 24.2,-7"/><path transform="translate(182.20,0)" d="M2.6,-27.0 V-2.6"/><path transform="translate(195.40,0)" d="M2.6,-27.0 V-2.6 M2.6,-14 C2.6,-22.5 8.3,-27 15.5,-27 L18.4,-27"/><path transform="translate(222.20,0)" d="M24.2,-22.6 A12.25,12.2 0 1 0 24.2,-7"/><path transform="translate(256.40,0)" d="M2.6,-27.0 V-15 A12.45,12.45 0 0 0 27.5,-15 M27.5,-27.0 V-2.6"/><path transform="translate(294.50,0)" d="M2.6,-35.5 V-2.6"/><path transform="translate(306.90,0)" d="M16.3,-27 A13.7,12.2 0 1 0 16.3,-2.6 A13.7,12.2 0 1 0 16.3,-27 M29.9,-26 V-2.6"/><path transform="translate(347.40,0)" d="M2.6,-27.0 V-2.6 M2.6,-14 C2.6,-22.5 8.3,-27 15.5,-27 L18.4,-27"/></g><g fill="#c98a4b"><circle cx="138.20" cy="-36.40" r="3.10"/><circle cx="184.80" cy="-36.40" r="3.10"/></g></g>
<g transform="translate(337.90,808.20) scale(0.9754,1)"><g fill="none" stroke="#c98a4b" stroke-width="4.90" stroke-linecap="round" stroke-linejoin="round"><path transform="translate(0.00,0)" d="M29,-28.6 C26,-32 22,-33.9 17.5,-33.9 C9,-33.9 2.6,-27 2.6,-18.3 C2.6,-9.6 9,-2.6 17.5,-2.6 C22,-2.6 26,-4.6 29,-8"/><path transform="translate(38.90,0)" d="M16.3,-27 A13.7,12.2 0 1 0 16.3,-2.6 A13.7,12.2 0 1 0 16.3,-27 M29.9,-26 V-2.6"/><path transform="translate(76.40,0)" d="M10.2,-35.5 V-13 C10.2,-6.3 14,-2.6 20,-2.6 C23,-2.6 25.5,-3.3 26.6,-4.5 M2.6,-25.1 H26.6"/></g></g>
<g transform="translate(461.20,808.20) scale(1.0113,1)"><g fill="none" stroke="#c98a4b" stroke-width="4.90" stroke-linecap="round" stroke-linejoin="round"><path transform="translate(0.00,0)" d="M2.6,-2.6 V-34.3 L28.4,-2.6 V-34.3"/><path transform="translate(38.20,0)" d="M3.3,-10.6 L25.9,-21 A12.25,12.2 0 1 0 25,-7.8"/><path transform="translate(74.30,0)" d="M22,-23.6 C19.8,-25.8 16.5,-27 12.8,-27 C7.4,-27 3.2,-24.8 3.2,-20.8 C3.2,-16.4 7.6,-15.6 12.8,-14.8 C18.6,-13.9 22.4,-12.4 22.4,-8 C22.4,-3.9 18.4,-2.6 12.8,-2.6 C8.2,-2.6 4.9,-3.7 2.6,-5.6"/><path transform="translate(103.50,0)" d="M10.2,-35.5 V-13 C10.2,-6.3 14,-2.6 20,-2.6 C23,-2.6 25.5,-3.3 26.6,-4.5 M2.6,-25.1 H26.6"/></g></g>
<g transform="translate(1465.20,456.80) scale(1.0016,1)"><g fill="none" stroke="#c98a4b" stroke-width="4.90" stroke-linecap="round" stroke-linejoin="round"><path transform="translate(0.00,0)" d="M2.6,-34.3 H30.7 M16.65,-34.3 V-2.6"/><path transform="translate(38.20,0)" d="M2.6,-35.5 V-2.6 M2.6,-14.6 A12.45,12.45 0 0 1 27.5,-14.6 V-2.6"/><path transform="translate(76.30,0)" d="M2.6,-27.0 V-2.6 M2.6,-14 C2.6,-22.5 8.3,-27 15.5,-27 L18.4,-27"/><path transform="translate(103.10,0)" d="M3.3,-10.6 L25.9,-21 A12.25,12.2 0 1 0 25,-7.8"/><path transform="translate(139.20,0)" d="M3.3,-10.6 L25.9,-21 A12.25,12.2 0 1 0 25,-7.8"/><path transform="translate(174.40,0)" d="M2.6,-18 H21.4"/><path transform="translate(204.70,0)" d="M24.6,-34.3 H2.6 V-2.6 M2.6,-17.3 H24.6"/><path transform="translate(239.00,0)" d="M2.6,-35.5 V-2.6"/><path transform="translate(251.40,0)" d="M14.85,-27 A12.25,12.2 0 1 0 14.85,-2.6 A12.25,12.2 0 1 0 14.85,-27"/><path transform="translate(287.50,0)" d="M14.85,-27 A12.25,12.2 0 1 0 14.85,-2.6 A12.25,12.2 0 1 0 14.85,-27"/><path transform="translate(324.40,0)" d="M2.6,-27.0 V-2.6 M2.6,-14 C2.6,-22.5 8.3,-27 15.5,-27 L18.4,-27"/><path transform="translate(351.20,0)" d="M22,-23.6 C19.8,-25.8 16.5,-27 12.8,-27 C7.4,-27 3.2,-24.8 3.2,-20.8 C3.2,-16.4 7.6,-15.6 12.8,-14.8 C18.6,-13.9 22.4,-12.4 22.4,-8 C22.4,-3.9 18.4,-2.6 12.8,-2.6 C8.2,-2.6 4.9,-3.7 2.6,-5.6"/></g></g>
<g transform="translate(1529.40,516.40) scale(0.9862,1)"><g fill="none" stroke="#c98a4b" stroke-width="4.90" stroke-linecap="round" stroke-linejoin="round"><path transform="translate(0.00,0)" d="M2.6,-2.6 V-34.3 H15.95 A10.95,10.95 0 0 1 15.95,-12.399999999999999 H2.6"/><path transform="translate(36.70,0)" d="M2.6,-35.5 V-2.6"/><path transform="translate(49.10,0)" d="M16.3,-27 A13.7,12.2 0 1 0 16.3,-2.6 A13.7,12.2 0 1 0 16.3,-27 M29.9,-26 V-2.6"/><path transform="translate(86.60,0)" d="M10.2,-35.5 V-13 C10.2,-6.3 14,-2.6 20,-2.6 C23,-2.6 25.5,-3.3 26.6,-4.5 M2.6,-25.1 H26.6"/><path transform="translate(120.60,0)" d="M10.2,-2.6 V-26 C10.2,-32 13.5,-35.5 18.5,-35.5 L19.4,-35.5 M2.6,-25.1 H19.4"/><path transform="translate(148.20,0)" d="M14.85,-27 A12.25,12.2 0 1 0 14.85,-2.6 A12.25,12.2 0 1 0 14.85,-27"/><path transform="translate(185.10,0)" d="M2.6,-27.0 V-2.6 M2.6,-14 C2.6,-22.5 8.3,-27 15.5,-27 L18.4,-27"/><path transform="translate(212.70,0)" d="M2.6,-27.0 V-2.6 M2.6,-14.6 A12.35,12.35 0 0 1 27.3,-14.6 V-2.6 M27.3,-14.6 A12.35,12.35 0 0 1 52,-14.6 V-2.6"/></g></g>
<g transform="translate(1018.70,1517.80) scale(1.0064,1)"><g fill="none" stroke="#c98a4b" stroke-width="4.90" stroke-linecap="round" stroke-linejoin="round"><path transform="translate(0.00,0)" d="M29,-28.6 C26,-32 22,-33.9 17.5,-33.9 C9,-33.9 2.6,-27 2.6,-18.3 C2.6,-9.6 9,-2.6 17.5,-2.6 C22,-2.6 26,-4.6 29,-8"/><path transform="translate(37.00,0)" d="M2.6,-27.0 L16.8,-5 M30.4,-27.0 L11.5,6.2"/><path transform="translate(75.30,0)" d="M2.6,-35.5 V-2.6"/><path transform="translate(88.50,0)" d="M2.6,-27.0 V-2.6"/><path transform="translate(101.70,0)" d="M2.6,-27.0 V-2.6 M2.6,-14.6 A12.45,12.45 0 0 1 27.5,-14.6 V-2.6"/><path transform="translate(139.00,0)" d="M15.05,-27 A12.45,12.2 0 1 0 15.05,-2.6 A12.45,12.2 0 1 0 15.05,-27 M27.5,-35.5 V-2.6"/><path transform="translate(176.30,0)" d="M3.3,-10.6 L25.9,-21 A12.25,12.2 0 1 0 25,-7.8"/><path transform="translate(213.20,0)" d="M2.6,-27.0 V-2.6 M2.6,-14 C2.6,-22.5 8.3,-27 15.5,-27 L18.4,-27"/></g><g fill="#c98a4b"><circle cx="91.10" cy="-36.40" r="3.10"/></g></g>
<g transform="translate(1042.00,1581.00) scale(1.0054,1)"><g fill="none" stroke="#c98a4b" stroke-width="4.90" stroke-linecap="round" stroke-linejoin="round"><path transform="translate(0.00,0)" d="M2.6,-34.3 V-2.6 H24.9"/><path transform="translate(32.20,0)" d="M16.3,-27 A13.7,12.2 0 1 0 16.3,-2.6 A13.7,12.2 0 1 0 16.3,-27 M29.9,-26 V-2.6"/><path transform="translate(71.90,0)" d="M15.05,-27 A12.45,12.2 0 1 0 15.05,-2.6 A12.45,12.2 0 1 0 15.05,-27 M27.5,-35.5 V-2.6"/><path transform="translate(109.20,0)" d="M15.05,-27 A12.45,12.2 0 1 0 15.05,-2.6 A12.45,12.2 0 1 0 15.05,-27 M27.5,-35.5 V-2.6"/><path transform="translate(146.50,0)" d="M3.3,-10.6 L25.9,-21 A12.25,12.2 0 1 0 25,-7.8"/><path transform="translate(183.40,0)" d="M2.6,-27.0 V-2.6 M2.6,-14 C2.6,-22.5 8.3,-27 15.5,-27 L18.4,-27"/></g></g>
</svg>
</body></html>
